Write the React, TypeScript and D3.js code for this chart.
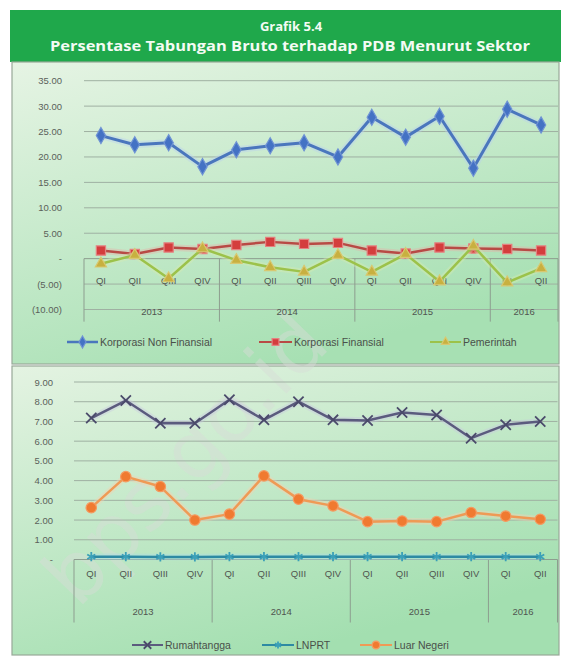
import * as d3 from 'd3';
import { useEffect, useRef } from 'react';

// categories
const quarters = ["QI", "QII", "QIII", "QIV", "QI", "QII", "QIII", "QIV", "QI", "QII", "QIII", "QIV", "QI", "QII"];
const years = ["2013", "2014", "2015", "2016"];
const quartersPerYear = [4, 4, 4, 2];

// top chart series (% of GDP)
const korporasiNonFinansial = [24.2, 22.4, 22.8, 18.1, 21.4, 22.2, 22.8, 20.0, 27.8, 23.9, 28.0, 17.8, 29.4, 26.3];
const korporasiFinansial = [1.6, 0.9, 2.2, 1.9, 2.7, 3.3, 2.9, 3.1, 1.6, 1.0, 2.2, 2.0, 1.9, 1.6];
const pemerintah = [-1.0, 0.7, -3.9, 2.0, -0.3, -1.7, -2.6, 0.7, -2.6, 0.9, -4.5, 2.5, -4.7, -1.9];

// bottom chart series
const rumahtangga = [7.17, 8.06, 6.91, 6.91, 8.1, 7.08, 8.0, 7.08, 7.05, 7.45, 7.33, 6.15, 6.83, 7.0];
const lnprt = [0.14, 0.14, 0.13, 0.13, 0.14, 0.14, 0.14, 0.14, 0.14, 0.14, 0.14, 0.14, 0.14, 0.14];
const luarNegeri = [2.63, 4.2, 3.7, 2.0, 2.3, 4.24, 3.06, 2.72, 1.92, 1.95, 1.92, 2.38, 2.2, 2.04];

// tick values
const topTicks = [-10, -5, 0, 5, 10, 15, 20, 25, 30, 35];
const bottomTicks = [0, 1, 2, 3, 4, 5, 6, 7, 8, 9];

const FONT = "'Liberation Sans', Arial, sans-serif";

function fmt(v: number) {
  if (v === 0) return "-";
  if (v < 0) return "(" + Math.abs(v).toFixed(2) + ")";
  return v.toFixed(2);
}

function symbolFor(kind: string) {
  if (kind === "diamond") return d3.symbolDiamond;
  if (kind === "square") return d3.symbolSquare;
  if (kind === "triangle") return d3.symbolTriangle;
  if (kind === "x") return d3.symbolX;
  if (kind === "asterisk") return d3.symbolAsterisk;
  return d3.symbolCircle;
}

type Style = { line: string; glow: string; width: number; marker: string; fill: string; stroke: string; size: number };

function drawMarker(g: any, px: number, py: number, st: Style) {
  const stroked = st.marker === "x" || st.marker === "asterisk";
  g.append("path")
    .attr("transform", `translate(${px},${py})`)
    .attr("d", d3.symbol().type(symbolFor(st.marker)).size(st.size)())
    .attr("fill", stroked ? "none" : st.fill)
    .attr("stroke", st.stroke)
    .attr("stroke-width", stroked ? 1.8 : 1.2);
}

function drawSeries(g: any, x: any, y: any, values: number[], st: Style) {
  const cx = (i: number) => x(i) + x.bandwidth() / 2;
  const line = d3.line<number>().x((d, i) => cx(i)).y(d => y(d));
  g.append("path").datum(values).attr("d", line).attr("fill", "none")
    .attr("stroke", st.glow).attr("stroke-width", st.width + 4).attr("stroke-opacity", 0.4)
    .attr("stroke-linejoin", "round");
  g.append("path").datum(values).attr("d", line).attr("fill", "none")
    .attr("stroke", st.line).attr("stroke-width", st.width).attr("stroke-linejoin", "round");
  values.forEach((v, i) => drawMarker(g, cx(i), y(v), st));
}

function drawPanel(svg: any, cfg: any) {
  const g = svg.append("g");
  const x = d3.scaleBand<number>().domain(quarters.map((_, i) => i)).range(cfg.xRange).padding(0);
  const y = d3.scaleLinear().domain(cfg.yDomain).range(cfg.yRange);

  // grid lines + y labels
  cfg.ticks.forEach((t: number) => {
    g.append("line").attr("x1", cfg.xRange[0]).attr("x2", cfg.xRange[1])
      .attr("y1", y(t)).attr("y2", y(t))
      .attr("stroke", t === 0 ? "#8d9d8f" : "#9fb0a2").attr("stroke-width", 1);
    g.append("text").attr("x", cfg.labelX).attr("y", y(t) + 3.5)
      .attr("text-anchor", "end").attr("font-family", FONT).attr("font-size", 9.5)
      .attr("fill", "#5a5f5a").text(fmt(t));
  });

  // category box
  const y0 = y(0);
  let start = 0;
  const bounds: number[] = [cfg.xRange[0]];
  quartersPerYear.forEach((n, k) => {
    const xs = x(start)!;
    const xe = start + n < quarters.length ? x(start + n)! : cfg.xRange[1];
    g.append("text").attr("x", (xs + xe) / 2).attr("y", y0 + cfg.yearDy)
      .attr("text-anchor", "middle").attr("font-family", FONT).attr("font-size", 9.5)
      .attr("fill", "#505550").text(years[k]);
    start += n;
    bounds.push(xe);
  });
  bounds.forEach(b => {
    g.append("line").attr("x1", b).attr("x2", b).attr("y1", y0).attr("y2", y0 + cfg.boxH)
      .attr("stroke", "#8d9d8f").attr("stroke-width", 1);
  });
  quarters.forEach((q, i) => {
    g.append("text").attr("x", x(i)! + x.bandwidth() / 2).attr("y", y0 + cfg.qDy)
      .attr("text-anchor", "middle").attr("font-family", FONT).attr("font-size", 9.5)
      .attr("fill", "#505550").text(q);
  });

  cfg.series.forEach((s: any) => drawSeries(g, x, y, s.values, s.style));

  // legend
  cfg.legend.forEach((l: any) => {
    const st: Style = l.style;
    g.append("line").attr("x1", l.x0).attr("x2", l.x1).attr("y1", cfg.legendY).attr("y2", cfg.legendY)
      .attr("stroke", st.line).attr("stroke-width", st.width - 0.5);
    drawMarker(g, (l.x0 + l.x1) / 2, cfg.legendY, { ...st, size: st.size * 0.55 });
    g.append("text").attr("x", l.x1 + 2).attr("y", cfg.legendY + 4)
      .attr("font-family", FONT).attr("font-size", 10.5).attr("fill", "#4a504a").text(l.label);
  });
}

const blue: Style = { line: "#4a76bd", glow: "#b8d0f0", width: 3, marker: "diamond", fill: "#4472c4", stroke: "#6f93d4", size: 75 };
const red: Style = { line: "#b84a45", glow: "#e8b0a8", width: 2.5, marker: "square", fill: "#d43d3d", stroke: "#e58080", size: 85 };
const yellow: Style = { line: "#9cc24a", glow: "#d8ecb0", width: 2.5, marker: "triangle", fill: "#c8b040", stroke: "#d8c870", size: 55 };
const purple: Style = { line: "#5b5b7e", glow: "#c8c8e0", width: 2.5, marker: "x", fill: "none", stroke: "#4a4a6a", size: 70 };
const teal: Style = { line: "#2d8aa3", glow: "#a8dce8", width: 2.5, marker: "asterisk", fill: "none", stroke: "#3ba0b8", size: 60 };
const orange: Style = { line: "#ef9a55", glow: "#f8d0b0", width: 2.5, marker: "circle", fill: "#f07a30", stroke: "#f59a60", size: 85 };

export default function App() {
  const ref = useRef<SVGSVGElement>(null);

  useEffect(() => {
    const svg = d3.select(ref.current);
    svg.selectAll("*").remove();

    const defs = svg.append("defs");
    const grad = (id: string, c0: string, c1: string) => {
      const lg = defs.append("linearGradient").attr("id", id)
        .attr("x1", 0).attr("y1", 0).attr("x2", 0.5).attr("y2", 1);
      lg.append("stop").attr("offset", "0%").attr("stop-color", c0);
      lg.append("stop").attr("offset", "100%").attr("stop-color", c1);
    };
    grad("gTop", "#e6f4e4", "#a7e0b3");
    grad("gBot", "#e4f3e2", "#a3dfb0");

    svg.append("rect").attr("width", 561).attr("height", 661).attr("fill", "#ffffff");

    // title banner
    svg.append("rect").attr("x", 10).attr("y", 10).attr("width", 551).attr("height", 52).attr("fill", "#1fa84b");
    svg.append("text").attr("x", 291).attr("y", 31).attr("text-anchor", "middle")
      .attr("font-family", "'Open Sans', 'DejaVu Sans', sans-serif").attr("font-weight", "bold")
      .attr("font-size", 13).attr("fill", "#f4fbf4").text("Grafik 5.4");
    svg.append("text").attr("x", 290).attr("y", 51).attr("text-anchor", "middle")
      .attr("font-family", "'Open Sans', 'DejaVu Sans', sans-serif").attr("font-weight", "bold")
      .attr("font-size", 13.5).attr("fill", "#f4fbf4")
      .attr("textLength", 480).attr("lengthAdjust", "spacingAndGlyphs")
      .text("Persentase Tabungan Bruto terhadap PDB Menurut Sektor");

    // panels
    svg.append("rect").attr("x", 12).attr("y", 62).attr("width", 547).attr("height", 302)
      .attr("fill", "url(#gTop)").attr("stroke", "#98a898").attr("stroke-width", 1.2);
    svg.append("rect").attr("x", 12).attr("y", 366).attr("width", 547).attr("height", 289)
      .attr("fill", "url(#gBot)").attr("stroke", "#98a898").attr("stroke-width", 1.2);

    // watermark
    svg.append("text").attr("transform", "translate(205,478) rotate(-46)")
      .attr("text-anchor", "middle").attr("font-family", "'DejaVu Sans', sans-serif")
      .attr("font-size", 80).attr("fill", "#d6dbd6").attr("fill-opacity", 0.45)
      .text("bps.go.id");

    drawPanel(svg, {
      xRange: [84, 558], yDomain: [-10, 35], yRange: [309.5, 80.7], ticks: topTicks, labelX: 62,
      qDy: 25, yearDy: 56, boxH: 63, legendY: 342,
      series: [
        { values: korporasiNonFinansial, style: blue },
        { values: korporasiFinansial, style: red },
        { values: pemerintah, style: yellow },
      ],
      legend: [
        { label: "Korporasi Non Finansial", x0: 67, x1: 98, style: blue },
        { label: "Korporasi Finansial", x0: 259, x1: 292, style: red },
        { label: "Pemerintah", x0: 430, x1: 461, style: yellow },
      ],
    });

    drawPanel(svg, {
      xRange: [74, 557.5], yDomain: [0, 9], yRange: [559.5, 382], ticks: bottomTicks, labelX: 53,
      qDy: 17, yearDy: 55, boxH: 63, legendY: 645,
      series: [
        { values: rumahtangga, style: purple },
        { values: lnprt, style: teal },
        { values: luarNegeri, style: orange },
      ],
      legend: [
        { label: "Rumahtangga", x0: 132, x1: 163, style: purple },
        { label: "LNPRT", x0: 262, x1: 294, style: teal },
        { label: "Luar Negeri", x0: 360, x1: 392, style: orange },
      ],
    });
  }, []);

  return (
    <svg ref={ref} width={561} height={661} style={{ position: 'absolute', left: 0, top: 0 }}></svg>
  );
}
